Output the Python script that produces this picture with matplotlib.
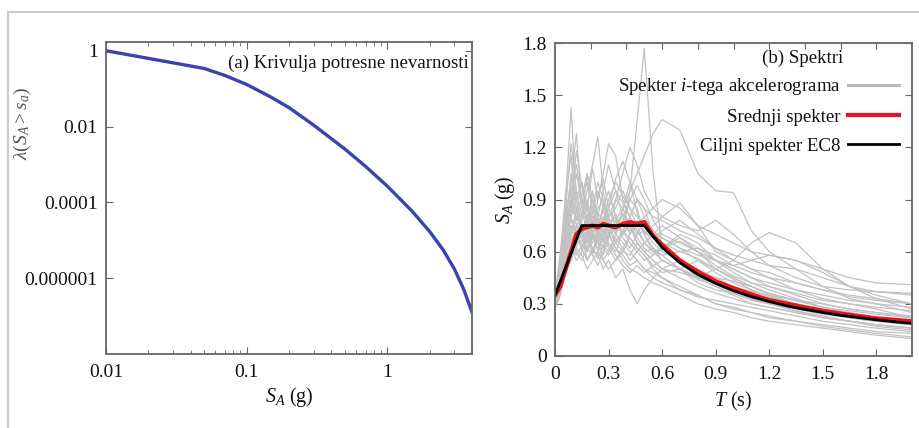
import matplotlib
matplotlib.use('Agg')
import matplotlib.pyplot as plt
from matplotlib.patches import Rectangle

plt.rcParams['font.family'] = ['Liberation Serif', 'DejaVu Serif']
plt.rcParams['mathtext.fontset'] = 'custom'
plt.rcParams['mathtext.rm'] = 'Liberation Serif'
plt.rcParams['mathtext.it'] = 'Liberation Serif:italic'
plt.rcParams['mathtext.bf'] = 'Liberation Serif:bold'

# (a) hazard curve
sa = [0.01, 0.05, 0.07, 0.1, 0.15, 0.2, 0.3, 0.5, 0.7, 1.0, 1.5, 2.0, 2.5, 3.0, 3.5, 4.0]
lam = [1.0, 0.34, 0.223, 0.129, 0.0589, 0.0316, 0.01086, 2.54e-3, 8.9e-4, 2.68e-4,
       5.86e-5, 1.70e-5, 5.5e-6, 1.74e-6, 5.0e-7, 1.26e-7]

# (b) spectra
T = [0, .03, .06, .09, .12, .15, .18, .21, .24, .27, .30, .34, .38, .42, .46,
     .50, .55, .60, .70, .80, .90, 1.0, 1.1, 1.2, 1.35, 1.5, 1.65, 1.8, 2.0]

records = [
    [0.32, 0.45, 0.62, 0.70, 0.85, 0.72, 0.65, 0.78, 0.70, 0.62, 0.75, 0.82, 0.70, 0.95, 1.35,
     1.77, 1.05, 0.62, 0.55, 0.50, 0.42, 0.38, 0.33, 0.30, 0.26, 0.22, 0.20, 0.17, 0.15],
    [0.30, 0.40, 0.55, 0.60, 0.72, 0.68, 0.60, 0.70, 0.78, 0.72, 0.80, 0.90, 0.85, 0.95, 1.05,
     1.15, 1.28, 1.36, 1.30, 1.05, 0.95, 0.94, 0.72, 0.60, 0.50, 0.40, 0.33, 0.30, 0.25],
    [0.34, 0.60, 0.90, 1.43, 0.90, 0.75, 0.60, 0.70, 0.65, 0.55, 0.60, 0.70, 0.65, 0.60, 0.55,
     0.50, 0.48, 0.45, 0.40, 0.35, 0.30, 0.28, 0.25, 0.23, 0.20, 0.17, 0.15, 0.13, 0.11],
    [0.30, 0.55, 0.80, 1.00, 1.28, 0.85, 0.70, 0.95, 0.80, 0.70, 0.85, 0.75, 0.80, 0.70, 0.75,
     0.65, 0.60, 0.58, 0.50, 0.45, 0.42, 0.38, 0.35, 0.33, 0.30, 0.26, 0.22, 0.20, 0.18],
    [0.33, 0.50, 0.70, 0.90, 0.75, 0.80, 0.95, 1.10, 1.26, 0.95, 0.80, 0.70, 0.85, 0.75, 0.65,
     0.60, 0.62, 0.55, 0.50, 0.55, 0.50, 0.45, 0.40, 0.35, 0.30, 0.27, 0.25, 0.22, 0.20],
    [0.35, 0.50, 0.65, 0.75, 0.70, 0.65, 0.80, 0.70, 0.90, 1.05, 1.22, 1.15, 0.90, 0.80, 0.90,
     0.85, 0.70, 0.60, 0.55, 0.48, 0.45, 0.43, 0.40, 0.36, 0.32, 0.30, 0.27, 0.25, 0.23],
    [0.30, 0.42, 0.55, 0.65, 0.75, 0.60, 0.70, 0.65, 0.75, 0.85, 0.70, 0.90, 1.05, 1.20, 1.10,
     0.95, 0.85, 0.80, 0.88, 0.75, 0.60, 0.55, 0.50, 0.45, 0.38, 0.33, 0.30, 0.27, 0.22],
    [0.28, 0.40, 0.60, 0.75, 0.65, 0.70, 0.55, 0.62, 0.58, 0.50, 0.55, 0.45, 0.50, 0.38, 0.30,
     0.38, 0.45, 0.50, 0.55, 0.50, 0.45, 0.40, 0.36, 0.32, 0.30, 0.25, 0.22, 0.20, 0.18],
    [0.32, 0.45, 0.60, 0.70, 0.80, 0.75, 0.65, 0.72, 0.60, 0.68, 0.62, 0.55, 0.60, 0.58, 0.65,
     0.60, 0.55, 0.50, 0.48, 0.45, 0.50, 0.55, 0.65, 0.71, 0.65, 0.50, 0.40, 0.35, 0.30],
    [0.36, 0.50, 0.70, 0.85, 0.95, 0.80, 0.90, 0.75, 0.85, 0.90, 0.80, 0.85, 0.95, 0.85, 0.75,
     0.80, 0.85, 0.90, 0.85, 0.75, 0.70, 0.65, 0.60, 0.58, 0.55, 0.50, 0.45, 0.42, 0.41],
    [0.30, 0.38, 0.50, 0.58, 0.68, 0.62, 0.55, 0.60, 0.70, 0.62, 0.58, 0.65, 0.72, 0.80, 0.90,
     0.85, 0.80, 0.78, 0.72, 0.68, 0.62, 0.55, 0.50, 0.48, 0.42, 0.38, 0.35, 0.33, 0.30],
    [0.27, 0.35, 0.50, 0.62, 0.55, 0.60, 0.70, 0.58, 0.52, 0.60, 0.70, 0.62, 0.55, 0.50, 0.48,
     0.45, 0.42, 0.40, 0.35, 0.30, 0.27, 0.25, 0.22, 0.20, 0.18, 0.16, 0.14, 0.12, 0.10],
    [0.33, 0.48, 0.72, 0.95, 1.10, 0.90, 0.75, 0.85, 1.00, 0.90, 0.75, 0.80, 0.70, 0.78, 0.70,
     0.72, 0.65, 0.60, 0.55, 0.45, 0.40, 0.35, 0.30, 0.28, 0.25, 0.22, 0.20, 0.18, 0.16],
    [0.31, 0.42, 0.58, 0.68, 0.62, 0.78, 0.85, 0.80, 0.65, 0.75, 0.90, 1.00, 0.92, 0.85, 0.80,
     0.75, 0.70, 0.68, 0.62, 0.58, 0.55, 0.50, 0.45, 0.40, 0.35, 0.30, 0.27, 0.25, 0.22],
    [0.29, 0.38, 0.52, 0.66, 0.60, 0.55, 0.62, 0.58, 0.68, 0.78, 0.65, 0.60, 0.72, 0.65, 0.60,
     0.55, 0.58, 0.62, 0.70, 0.65, 0.55, 0.48, 0.42, 0.38, 0.33, 0.28, 0.24, 0.21, 0.19],
    [0.34, 0.50, 0.75, 1.05, 0.85, 0.70, 0.80, 0.90, 0.78, 0.65, 0.70, 0.78, 0.68, 0.62, 0.70,
     0.78, 0.72, 0.65, 0.60, 0.62, 0.58, 0.52, 0.48, 0.45, 0.42, 0.38, 0.34, 0.32, 0.30],
    [0.30, 0.45, 0.65, 0.80, 0.90, 1.00, 0.85, 0.72, 0.80, 0.95, 1.10, 0.95, 0.80, 0.90, 0.85,
     0.70, 0.60, 0.55, 0.50, 0.42, 0.38, 0.36, 0.33, 0.30, 0.27, 0.24, 0.22, 0.20, 0.18],
    [0.28, 0.36, 0.48, 0.55, 0.62, 0.58, 0.50, 0.55, 0.60, 0.55, 0.50, 0.55, 0.62, 0.70, 0.78,
     0.72, 0.68, 0.72, 0.78, 0.70, 0.62, 0.58, 0.55, 0.52, 0.50, 0.45, 0.40, 0.37, 0.35],
    [0.35, 0.55, 0.85, 0.95, 0.80, 0.72, 0.65, 0.75, 0.70, 0.80, 0.72, 0.65, 0.60, 0.68, 0.62,
     0.58, 0.50, 0.45, 0.38, 0.35, 0.30, 0.27, 0.25, 0.22, 0.20, 0.18, 0.16, 0.14, 0.13],
    [0.32, 0.44, 0.62, 0.72, 0.68, 0.82, 0.78, 0.68, 0.72, 0.66, 0.78, 0.72, 0.76, 0.90, 0.98,
     0.90, 0.78, 0.70, 0.65, 0.60, 0.50, 0.45, 0.40, 0.36, 0.32, 0.28, 0.25, 0.22, 0.20],
    [0.30, 0.40, 0.55, 0.62, 0.75, 0.68, 0.72, 0.62, 0.56, 0.64, 0.60, 0.68, 0.62, 0.55, 0.60,
     0.65, 0.70, 0.75, 0.68, 0.60, 0.55, 0.52, 0.55, 0.58, 0.55, 0.48, 0.40, 0.33, 0.27],
    [0.31, 0.46, 0.68, 0.78, 0.72, 0.62, 0.68, 0.82, 0.95, 0.85, 0.70, 0.62, 0.58, 0.52, 0.55,
     0.50, 0.45, 0.42, 0.38, 0.34, 0.32, 0.30, 0.28, 0.26, 0.23, 0.20, 0.18, 0.16, 0.14],
    [0.33, 0.48, 0.70, 0.82, 1.05, 0.88, 1.00, 0.85, 0.75, 0.72, 0.68, 0.75, 0.82, 0.75, 0.68,
     0.62, 0.58, 0.62, 0.68, 0.62, 0.55, 0.50, 0.45, 0.42, 0.38, 0.35, 0.32, 0.30, 0.28],
    [0.29, 0.40, 0.56, 0.64, 0.58, 0.64, 0.60, 0.68, 0.62, 0.70, 0.64, 0.58, 0.52, 0.48, 0.52,
     0.48, 0.52, 0.55, 0.50, 0.44, 0.40, 0.36, 0.32, 0.30, 0.26, 0.23, 0.20, 0.18, 0.16],
    [0.34, 0.52, 0.78, 0.90, 0.78, 0.92, 1.05, 0.90, 0.82, 0.78, 0.85, 1.02, 1.12, 1.00, 0.82,
     0.70, 0.62, 0.58, 0.60, 0.56, 0.50, 0.44, 0.38, 0.34, 0.30, 0.26, 0.23, 0.21, 0.19],
    [0.30, 0.42, 0.60, 0.70, 0.64, 0.70, 0.62, 0.72, 0.65, 0.70, 0.78, 0.70, 0.78, 0.72, 0.78,
     0.70, 0.75, 0.80, 0.75, 0.72, 0.78, 0.70, 0.60, 0.52, 0.45, 0.40, 0.38, 0.37, 0.36],
    [0.33, 0.55, 0.95, 1.15, 0.82, 1.00, 0.78, 0.90, 0.72, 0.85, 0.95, 0.80, 0.70, 0.75, 0.65,
     0.60, 0.55, 0.50, 0.45, 0.40, 0.36, 0.33, 0.30, 0.28, 0.25, 0.22, 0.20, 0.18, 0.16],
    [0.30, 0.48, 0.85, 1.22, 0.95, 0.80, 1.05, 0.82, 0.70, 0.88, 0.78, 0.65, 0.72, 0.68, 0.62,
     0.58, 0.52, 0.48, 0.50, 0.46, 0.42, 0.40, 0.37, 0.35, 0.32, 0.28, 0.26, 0.24, 0.22],
    [0.36, 0.50, 0.72, 0.88, 1.18, 0.98, 0.85, 1.08, 0.90, 1.02, 0.85, 0.95, 0.88, 0.80, 0.72,
     0.65, 0.60, 0.62, 0.66, 0.60, 0.52, 0.46, 0.42, 0.40, 0.36, 0.32, 0.30, 0.28, 0.26],
    [0.28, 0.42, 0.66, 0.80, 0.70, 0.62, 0.72, 0.60, 0.66, 0.58, 0.68, 0.78, 0.85, 1.00, 0.90,
     0.80, 0.72, 0.68, 0.62, 0.55, 0.48, 0.42, 0.38, 0.34, 0.30, 0.27, 0.24, 0.22, 0.20],
]

mean_spec = [0.35, 0.40, 0.50, 0.60, 0.70, 0.73, 0.74, 0.75, 0.74, 0.76, 0.75, 0.74, 0.76, 0.77,
             0.76, 0.77, 0.69, 0.64, 0.55, 0.485, 0.43, 0.39, 0.355, 0.322, 0.29, 0.26, 0.237,
             0.217, 0.20]

T_ec8 = [0.0, 0.15, 0.5, 0.6, 0.7, 0.8, 0.9, 1.0, 1.1, 1.2, 1.3, 1.4, 1.5, 1.6, 1.7, 1.8,
         1.9, 2.0]
sa_ec8 = [0.35, 0.75, 0.75, 0.625, 0.536, 0.469, 0.417, 0.375, 0.341, 0.313, 0.288, 0.268,
          0.25, 0.234, 0.221, 0.208, 0.197, 0.188]

fig = plt.figure(figsize=(9.19, 4.28), dpi=100)
fig.patches.append(Rectangle((8 / 919, -0.05), 1.2, (428 - 12) / 428 + 0.05,
                             transform=fig.transFigure, fill=False,
                             edgecolor='#cccccc', linewidth=1.5))

spine_c = '#666666'
txt_c = '#111111'

# ---- left panel
ax1 = fig.add_axes([106 / 919, 74 / 428, 366 / 919, 312 / 428])
ax1.plot(sa, lam, color='#3a43b0', lw=2.4)
ax1.set_xscale('log')
ax1.set_yscale('log')
ax1.set_xlim(0.01, 4.0)
ax1.set_ylim(1e-8, 1.7)
ax1.set_xticks([0.01, 0.1, 1])
ax1.set_xticklabels(['0.01', '0.1', '1'])
ax1.set_yticks([1, 1e-2, 1e-4, 1e-6])
ax1.set_yticklabels(['1', '0.01', '0.0001', '0.000001'])
ax1.yaxis.set_minor_locator(matplotlib.ticker.NullLocator())
ax1.set_xlabel(r'$S_A$ (g)', fontsize=14.5, color=txt_c, labelpad=3)
ax1.set_ylabel(r'$\lambda(S_A > s_a)$', fontsize=14, color='#555555')
ax1.yaxis.set_label_coords(-0.2, 0.74)
ax1.text(0.99, 0.933, '(a) Krivulja potresne nevarnosti', transform=ax1.transAxes,
         ha='right', va='center', fontsize=13.6, color=txt_c)

# ---- right panel
ax2 = fig.add_axes([555 / 919, 72 / 428, 357 / 919, 313 / 428])
for rec in records:
    ax2.plot(T, rec, color='#c2c2c2', lw=0.9)
ax2.plot([], [], color='#b8b8b8', lw=2.2, label=r'Spekter $\mathit{i}$-tega akcelerograma')
ax2.plot(T, mean_spec, color='#e8141c', lw=3.0, label='Srednji spekter')
ax2.plot(T_ec8, sa_ec8, color='black', lw=2.0, label='Ciljni spekter EC8')
ax2.set_xlim(0, 2.0)
ax2.set_ylim(0, 1.8)
ax2.set_xticks([0, 0.3, 0.6, 0.9, 1.2, 1.5, 1.8])
ax2.set_xticklabels(['0', '0.3', '0.6', '0.9', '1.2', '1.5', '1.8'])
ax2.set_yticks([0, 0.3, 0.6, 0.9, 1.2, 1.5, 1.8])
ax2.set_yticklabels(['0', '0.3', '0.6', '0.9', '1.2', '1.5', '1.8'])
ax2.set_xlabel(r'$T$ (s)', fontsize=14.5, color=txt_c, labelpad=5)
ax2.set_ylabel(r'$S_A$ (g)', fontsize=14.5, color=txt_c, labelpad=4)
top = ax2.secondary_xaxis('top')
top.set_xticks([0.2, 0.4, 0.6, 0.8, 1.0, 1.2, 1.4, 1.6, 1.8])
top.set_xticklabels([])
top.tick_params(direction='in', length=4, color=spine_c)
top.spines['top'].set_visible(False)
ax2.text(0.807, 0.952, '(b) Spektri', transform=ax2.transAxes, ha='right', va='center',
         fontsize=13.6, color=txt_c)
leg = ax2.legend(loc='upper right', bbox_to_anchor=(0.964, 0.893), frameon=False,
                 markerfirst=False, fontsize=13.6, handlelength=2.7, handletextpad=0.4,
                 labelspacing=0.6, borderpad=0, borderaxespad=0)
for t in leg.get_texts():
    t.set_color(txt_c)

for ax in (ax1, ax2):
    for s in ax.spines.values():
        s.set_color(spine_c)
        s.set_linewidth(1.3)
    ax.tick_params(which='both', direction='in', colors=spine_c, labelcolor=txt_c,
                   labelsize=14)
    ax.tick_params(which='major', length=5)
    ax.tick_params(which='minor', length=3)
    ax.tick_params(axis='x', pad=7)
    ax.tick_params(axis='y', pad=6)
ax1.tick_params(which='both', top=True, right=True)
ax2.tick_params(which='both', right=True, top=False)

fig.savefig('out.png', dpi=100)
